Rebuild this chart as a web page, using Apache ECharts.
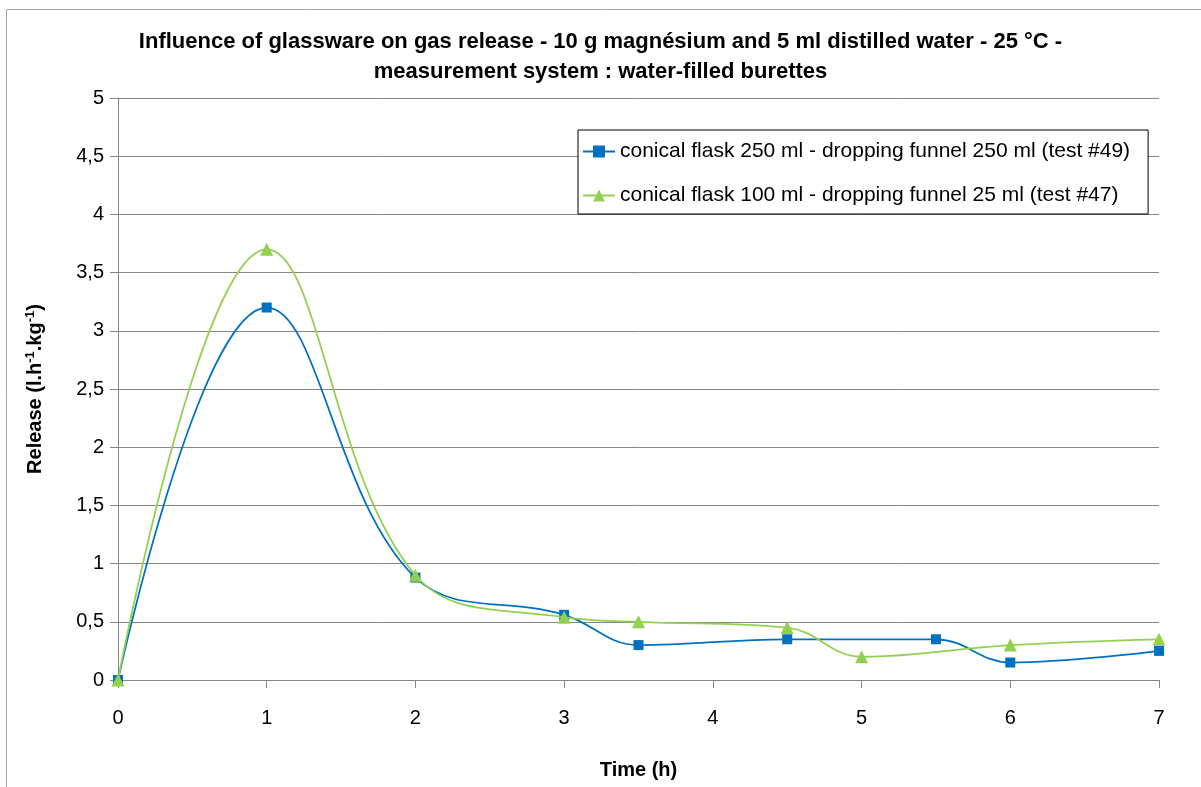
<!DOCTYPE html>
<html><head><meta charset="utf-8">
<script src="https://cdn.jsdelivr.net/npm/echarts@6/dist/echarts.min.js"></script>
<style>html,body{margin:0;padding:0;background:#fff}#c{width:1201px;height:787px}</style>
</head><body><div id="c"></div>
<script>
const titleText = 'Influence of glassware on gas release - 10 g magnésium and 5 ml distilled water - 25 °C -\nmeasurement system : water-filled burettes';
const seriesNames = ['conical flask 250 ml - dropping funnel 250 ml (test #49)', 'conical flask 100 ml - dropping funnel 25 ml (test #47)'];
const timeA = [0, 1, 2, 3, 3.5, 4.5, 5.5, 6, 7];
const releaseA = [0, 3.2, 0.88, 0.56, 0.3, 0.35, 0.35, 0.15, 0.25];
const timeB = [0, 1, 2, 3, 3.5, 4.5, 5, 6, 7];
const releaseB = [0, 3.7, 0.9, 0.54, 0.5, 0.45, 0.2, 0.3, 0.35];

const font = 'Liberation Sans';
const chart = echarts.init(document.getElementById('c'));
chart.setOption({
  animation: false,
  backgroundColor: '#fff',
  graphic: [{type:'rect', shape:{x:6.5,y:9.5,width:1300,height:900}, style:{fill:'none', stroke:'#a6a6a6', lineWidth:1}, silent:true}],
  title: {
    text: titleText, left: 'center', top: 22,
    textStyle: {fontFamily: font, fontSize: 22, fontWeight: 'bold', color: '#000', lineHeight: 30}
  },
  legend: {
    orient: 'vertical', left: 578, top: 130,
    backgroundColor: '#fff', borderColor: '#000', borderWidth: 1,
    padding: [11, 18, 8, 4], itemGap: 23, itemWidth: 32, itemHeight: 15,
    textStyle: {fontFamily: font, fontSize: 21, color: '#000'},
    data: seriesNames
  },
  grid: {left: 118, right: 42, top: 98, bottom: 107, containLabel: false},
  xAxis: {
    type: 'value', min: 0, max: 7, interval: 1,
    name: 'Time (h)', nameLocation: 'middle', nameGap: 80,
    nameTextStyle: {fontFamily: font, fontSize: 20, fontWeight: 'bold', color: '#000'},
    axisLine: {lineStyle: {color: '#868686', width: 1}},
    axisTick: {show: true, length: 8, lineStyle: {color: '#868686'}},
    axisLabel: {fontFamily: font, fontSize: 20, color: '#000', margin: 28},
    splitLine: {show: false}
  },
  yAxis: {
    type: 'value', min: 0, max: 5, interval: 0.5,
    name: '{a|Release (l.h}{s|-1}{a|.kg}{s|-1}{a|)}', nameLocation: 'middle', nameGap: 72, nameRotate: 90,
    nameTextStyle: {
      rich: {
        a: {fontFamily: font, fontSize: 20, fontWeight: 'bold', color: '#000'},
        s: {fontFamily: font, fontSize: 13, fontWeight: 'bold', color: '#000', verticalAlign: 'top', padding: [0,0,9,0]}
      }
    },
    axisLine: {show: true, lineStyle: {color: '#868686', width: 1}},
    axisTick: {show: true, length: 8, lineStyle: {color: '#868686'}},
    axisLabel: {fontFamily: font, fontSize: 20, color: '#000', margin: 14,
      formatter: v => String(v).replace('.', ',')},
    splitLine: {show: true, lineStyle: {color: '#868686', width: 1}}
  },
  series: [
    {
      name: seriesNames[0], type: 'line', smooth: 0.4,
      data: timeA.map((t, i) => [t, releaseA[i]]),
      symbol: 'rect', symbolSize: 10,
      itemStyle: {color: '#0070C0'},
      lineStyle: {color: '#0070C0', width: 1.75},
      z: 3
    },
    {
      name: seriesNames[1], type: 'line', smooth: 0.4,
      data: timeB.map((t, i) => [t, releaseB[i]]),
      symbol: 'triangle', symbolSize: 13,
      itemStyle: {color: '#92D050'},
      lineStyle: {color: '#92D050', width: 1.75},
      z: 4
    }
  ]
});
</script></body></html>
